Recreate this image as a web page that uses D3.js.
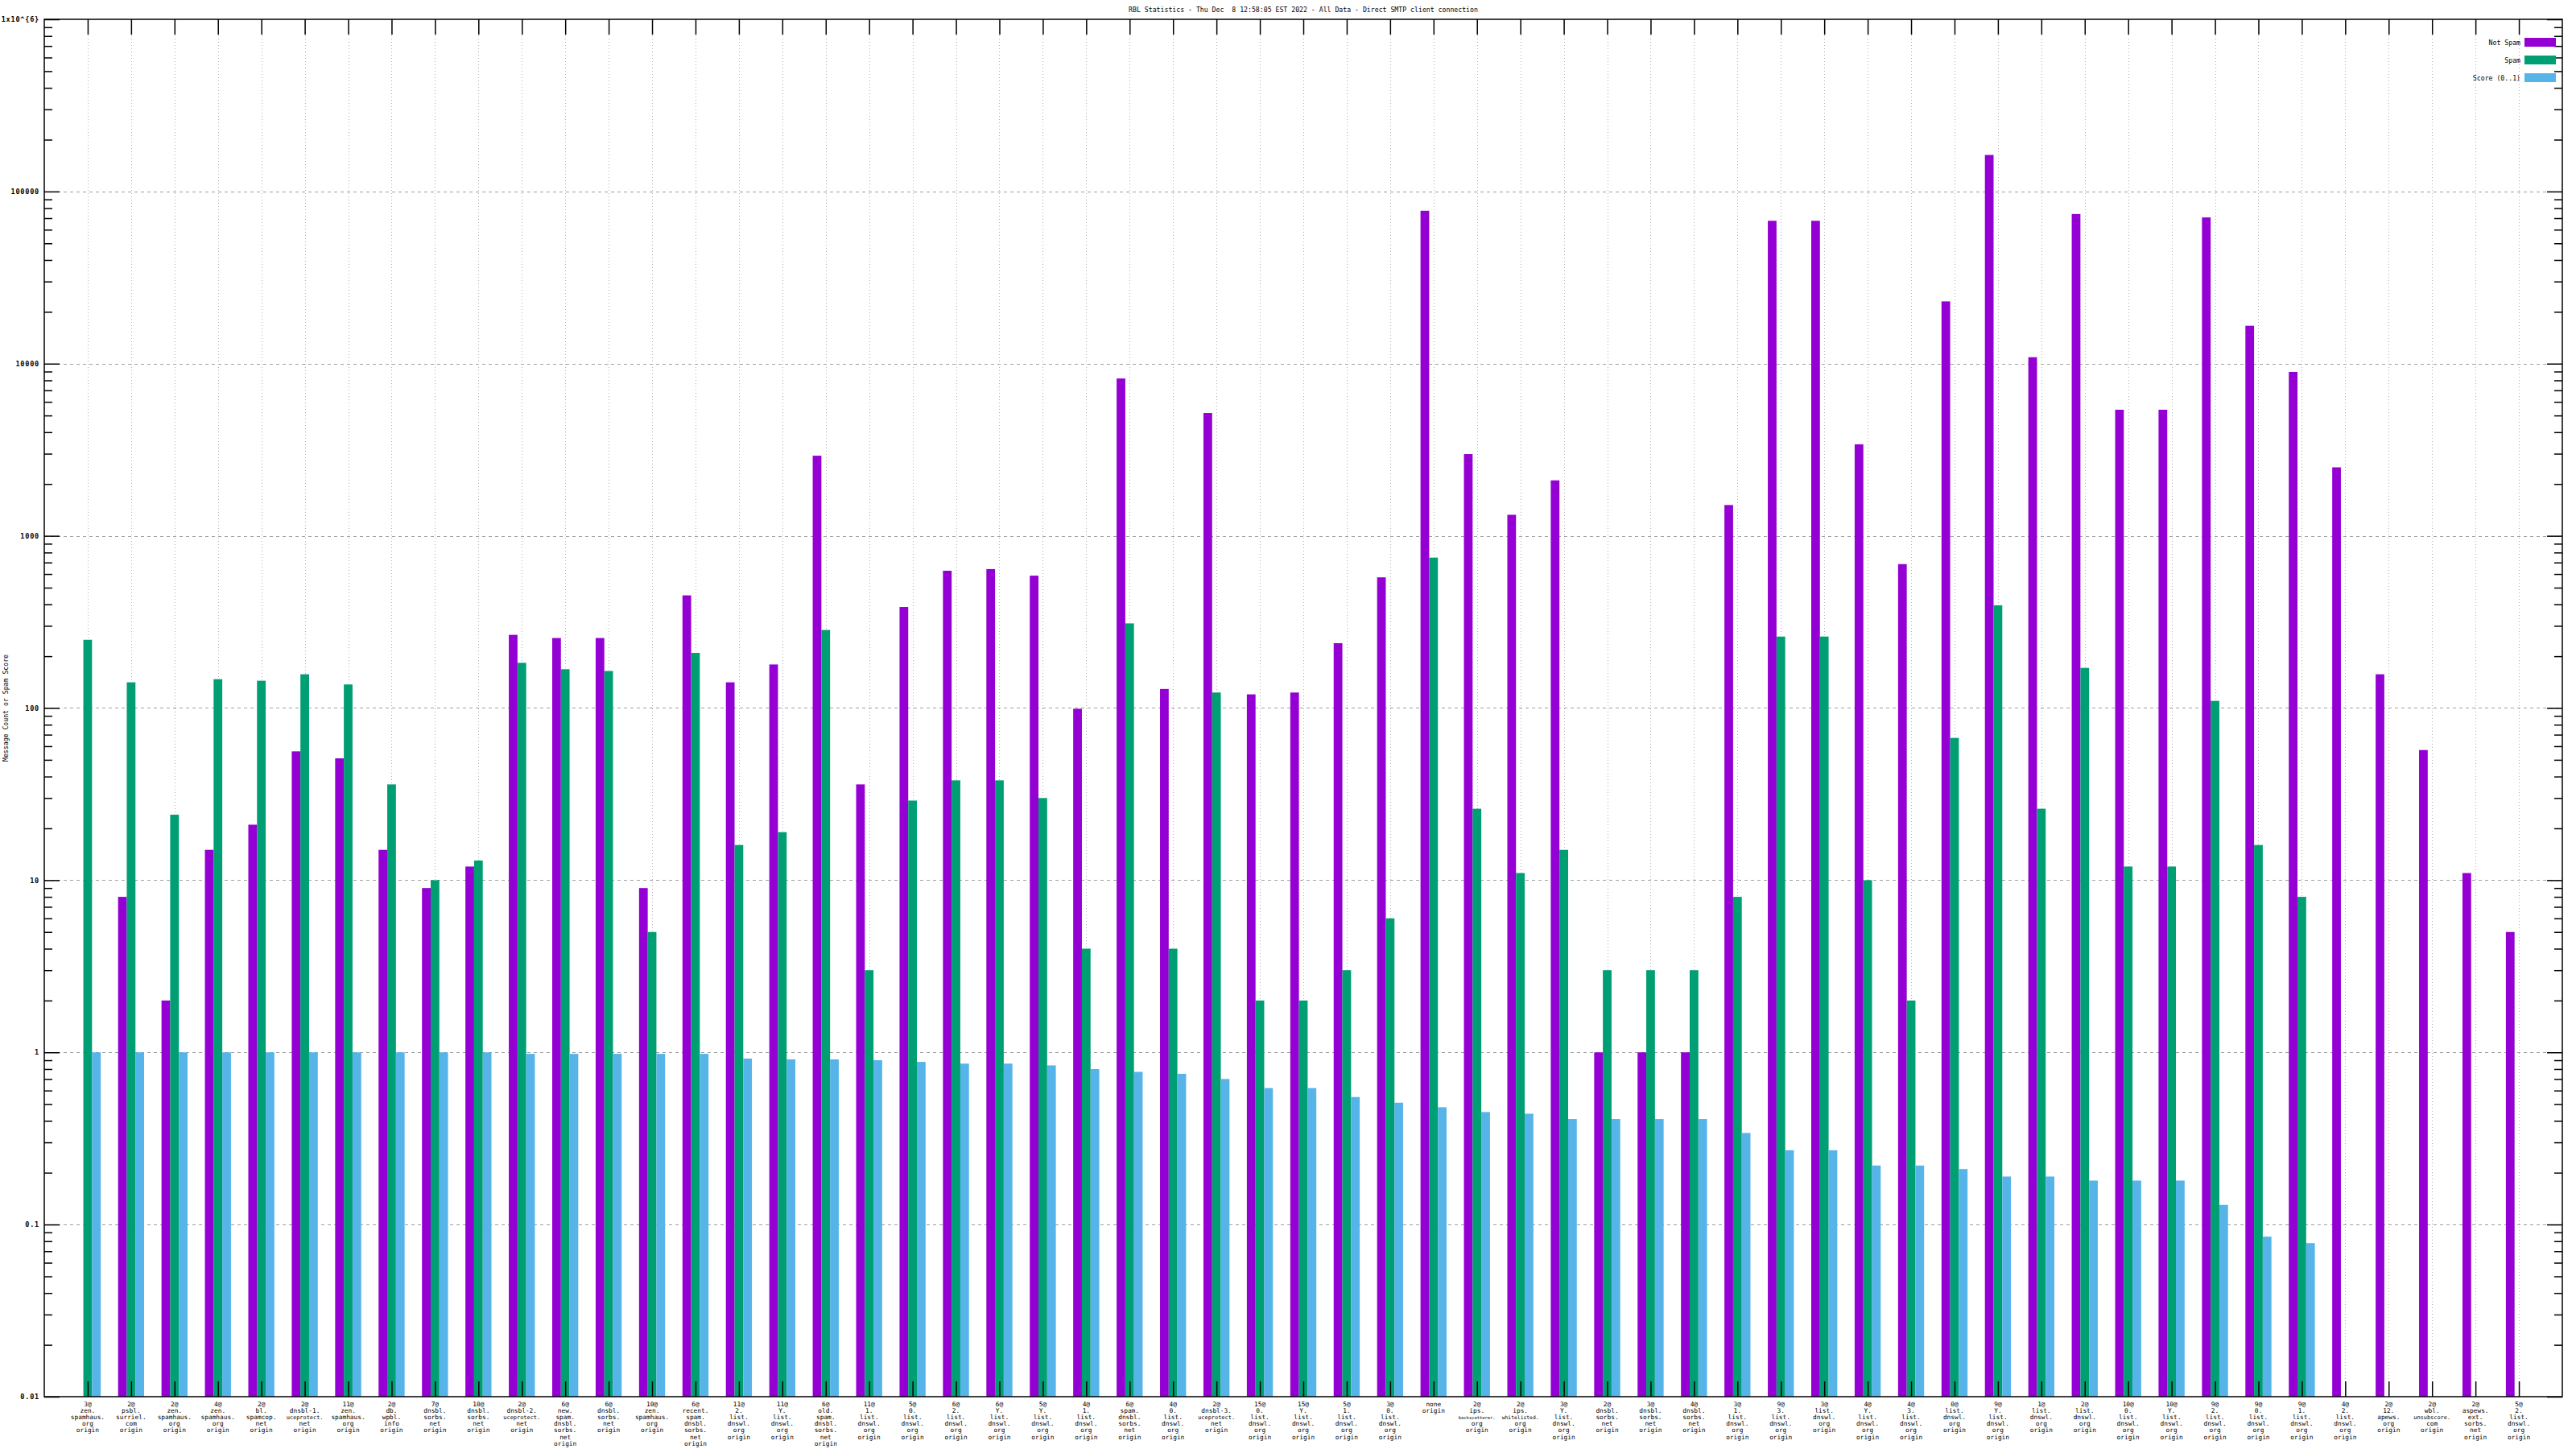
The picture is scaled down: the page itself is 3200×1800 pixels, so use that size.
<!DOCTYPE html>
<html>
<head>
<meta charset="utf-8">
<script src="https://cdn.jsdelivr.net/npm/d3@7"></script>
<style>
  html, body { margin: 0; padding: 0; background: #fff; }
  svg { display: block; }
  text { font-family: "DejaVu Sans Mono", monospace; fill: #000; white-space: pre; }
</style>
</head>
<body>
<svg id="chart" width="3200" height="1800"></svg>
<script>
const title = "RBL Statistics - Thu Dec  8 12:58:05 EST 2022 - All Data - Direct SMTP client connection";
const yLabel = "Message Count or Spam Score";
const seriesNames = ["Not Spam", "Spam", "Score (0..1)"];
const seriesColors = ["#9400d3", "#009e73", "#56b4e9"];

const categories = [
  "3@\nzen.\nspamhaus.\norg\norigin",
  "2@\npsbl.\nsurriel.\ncom\norigin",
  "2@\nzen.\nspamhaus.\norg\norigin",
  "4@\nzen.\nspamhaus.\norg\norigin",
  "2@\nbl.\nspamcop.\nnet\norigin",
  "2@\ndnsbl-1.\nuceprotect.\nnet\norigin",
  "11@\nzen.\nspamhaus.\norg\norigin",
  "2@\ndb.\nwpbl.\ninfo\norigin",
  "7@\ndnsbl.\nsorbs.\nnet\norigin",
  "10@\ndnsbl.\nsorbs.\nnet\norigin",
  "2@\ndnsbl-2.\nuceprotect.\nnet\norigin",
  "6@\nnew.\nspam.\ndnsbl.\nsorbs.\nnet\norigin",
  "6@\ndnsbl.\nsorbs.\nnet\norigin",
  "10@\nzen.\nspamhaus.\norg\norigin",
  "6@\nrecent.\nspam.\ndnsbl.\nsorbs.\nnet\norigin",
  "11@\n2.\nlist.\ndnswl.\norg\norigin",
  "11@\nY.\nlist.\ndnswl.\norg\norigin",
  "6@\nold.\nspam.\ndnsbl.\nsorbs.\nnet\norigin",
  "11@\n1.\nlist.\ndnswl.\norg\norigin",
  "5@\n0.\nlist.\ndnswl.\norg\norigin",
  "6@\n2.\nlist.\ndnswl.\norg\norigin",
  "6@\nY.\nlist.\ndnswl.\norg\norigin",
  "5@\nY.\nlist.\ndnswl.\norg\norigin",
  "4@\n1.\nlist.\ndnswl.\norg\norigin",
  "6@\nspam.\ndnsbl.\nsorbs.\nnet\norigin",
  "4@\n0.\nlist.\ndnswl.\norg\norigin",
  "2@\ndnsbl-3.\nuceprotect.\nnet\norigin",
  "15@\n0.\nlist.\ndnswl.\norg\norigin",
  "15@\nY.\nlist.\ndnswl.\norg\norigin",
  "5@\n1.\nlist.\ndnswl.\norg\norigin",
  "3@\n0.\nlist.\ndnswl.\norg\norigin",
  "none\norigin",
  "2@\nips.\nbackscatterer.\norg\norigin",
  "2@\nips.\nwhitelisted.\norg\norigin",
  "3@\nY.\nlist.\ndnswl.\norg\norigin",
  "2@\ndnsbl.\nsorbs.\nnet\norigin",
  "3@\ndnsbl.\nsorbs.\nnet\norigin",
  "4@\ndnsbl.\nsorbs.\nnet\norigin",
  "3@\n1.\nlist.\ndnswl.\norg\norigin",
  "9@\n3.\nlist.\ndnswl.\norg\norigin",
  "3@\nlist.\ndnswl.\norg\norigin",
  "4@\nY.\nlist.\ndnswl.\norg\norigin",
  "4@\n3.\nlist.\ndnswl.\norg\norigin",
  "0@\nlist.\ndnswl.\norg\norigin",
  "9@\nY.\nlist.\ndnswl.\norg\norigin",
  "1@\nlist.\ndnswl.\norg\norigin",
  "2@\nlist.\ndnswl.\norg\norigin",
  "10@\n0.\nlist.\ndnswl.\norg\norigin",
  "10@\nY.\nlist.\ndnswl.\norg\norigin",
  "9@\n2.\nlist.\ndnswl.\norg\norigin",
  "9@\n0.\nlist.\ndnswl.\norg\norigin",
  "9@\n1.\nlist.\ndnswl.\norg\norigin",
  "4@\n2.\nlist.\ndnswl.\norg\norigin",
  "2@\n12.\napews.\norg\norigin",
  "2@\nwbl.\nunsubscore.\ncom\norigin",
  "2@\naspews.\next.\nsorbs.\nnet\norigin",
  "5@\n2.\nlist.\ndnswl.\norg\norigin"
];

const notSpam = [null, 8, 2, 15, 21, 56, 51, 15, 9, 12,
  266, 255, 255, 9, 451, 141, 179, 2920, 36, 386,
  627, 641, 587, 99, 8200, 129, 5170, 120, 123, 238,
  574, 77300, 2985, 1325, 2100, 1, 1, 1, 1510, 67600,
  67600, 3400, 685, 23000, 163000, 10900, 74000, 5400, 5400, 70700,
  16600, 8960, 2500, 157, 57, 11, 5];

const spam = [249, 141, 24, 147, 144, 157, 137, 36, 10, 13,
  183, 168, 164, 5, 209, 16, 19, 284, 3, 29,
  38, 38, 30, 4, 310, 4, 123, 2, 2, 3,
  6, 747, 26, 11, 15, 3, 3, 3, 8, 260,
  260, 10, 2, 67, 395, 26, 171, 12, 12, 110,
  16, 8, null, null, null, null, null];

const score = [1, 1, 1, 1, 1, 1, 1, 1, 1, 1,
  0.98, 0.98, 0.98, 0.98, 0.98, 0.92, 0.91, 0.91, 0.90, 0.88,
  0.86, 0.86, 0.84, 0.80, 0.77, 0.75, 0.70, 0.62, 0.62, 0.55,
  0.51, 0.48, 0.45, 0.44, 0.41, 0.41, 0.41, 0.41, 0.34, 0.27,
  0.27, 0.22, 0.22, 0.21, 0.19, 0.19, 0.18, 0.18, 0.18, 0.13,
  0.085, 0.078, null, null, null, null, null];

const yTickValues = [0.01, 0.1, 1, 10, 100, 1000, 10000, 100000, 1000000];
const yTickLabels = ["0.01", "0.1", "1", "10", "100", "1000", "10000", "100000", "1x10^{6}"];

// ---------------- drawing ----------------
const svg = d3.select("#chart");
const W = 3200, H = 1800;
const m = {left: 55, right: 17, top: 24, bottom: 65};
const x0 = m.left, x1 = W - m.right, yTop = m.top, yBot = H - m.bottom;

svg.append("rect").attr("width", W).attr("height", H).attr("fill", "#fff");

const x = d3.scaleLinear().domain([-1, categories.length]).range([x0, x1]);
const y = d3.scaleLog().domain([0.01, 1e6]).range([yBot, yTop]);
const step = x(1) - x(0);
const bw = step / 5;

// minor ticks
const minorVals = [];
for (let e = -2; e < 6; e++) for (let k = 2; k <= 9; k++) minorVals.push(k * Math.pow(10, e));

// grid
const grid = svg.append("g");
grid.selectAll("line.h").data(yTickValues.slice(1, -1)).join("line")
  .attr("x1", x0).attr("x2", x1)
  .attr("y1", d => Math.round(y(d)) + 0.5).attr("y2", d => Math.round(y(d)) + 0.5)
  .attr("stroke", "#a0a0a0").attr("stroke-width", 1)
  .attr("stroke-dasharray", "4,4");
grid.selectAll("line.v").data(d3.range(categories.length)).join("line")
  .attr("x1", d => Math.round(x(d)) + 0.5).attr("x2", d => Math.round(x(d)) + 0.5)
  .attr("y1", yTop).attr("y2", yBot)
  .attr("stroke", "#b0b0b0").attr("stroke-width", 1)
  .attr("stroke-dasharray", "1,3");

// bars
const series = [notSpam, spam, score];
series.forEach((vals, s) => {
  svg.append("g").selectAll("rect")
    .data(vals.map((v, i) => ({v, i})).filter(d => d.v != null && d.v > 0))
    .join("rect")
    .attr("x", d => x(d.i) + (s - 1.5) * bw)
    .attr("width", bw)
    .attr("y", d => y(d.v))
    .attr("height", d => yBot - y(d.v))
    .attr("fill", seriesColors[s]);
});

// axes
const TL = 19, TLm = 10;
const axL = svg.append("g").attr("transform", `translate(${x0},0)`)
  .call(d3.axisLeft(y).tickValues(yTickValues).tickSize(-TL).tickSizeOuter(0).tickPadding(6)
    .tickFormat((d, i) => yTickLabels[i]));
svg.append("g").attr("transform", `translate(${x0},0)`)
  .call(d3.axisLeft(y).tickValues(minorVals).tickSize(-TLm).tickSizeOuter(0).tickFormat(""));
svg.append("g").attr("transform", `translate(${x1},0)`)
  .call(d3.axisRight(y).tickValues(yTickValues).tickSize(-TL).tickSizeOuter(0).tickFormat(""));
svg.append("g").attr("transform", `translate(${x1},0)`)
  .call(d3.axisRight(y).tickValues(minorVals).tickSize(-TLm).tickSizeOuter(0).tickFormat(""));
svg.append("g").attr("transform", `translate(0,${yBot})`)
  .call(d3.axisBottom(x).tickValues(d3.range(categories.length)).tickSize(-TL).tickSizeOuter(0).tickFormat(""));
svg.append("g").attr("transform", `translate(0,${yTop})`)
  .call(d3.axisTop(x).tickValues(d3.range(categories.length)).tickSize(-TL).tickSizeOuter(0).tickFormat(""));

svg.selectAll(".domain").remove();
svg.selectAll(".tick line").attr("stroke", "#000").attr("stroke-width", 1.5);
axL.selectAll("text").attr("font-size", 8.5).attr("font-family", "DejaVu Sans Mono, monospace")
  .attr("font-weight", "bold").attr("letter-spacing", 0.8);

// border
svg.append("rect").attr("x", x0).attr("y", yTop).attr("width", x1 - x0).attr("height", yBot - yTop)
  .attr("fill", "none").attr("stroke", "#000").attr("stroke-width", 1.5);

// x labels (each line its own text; long lines shrunk so neighbours do not collide)
const xl = svg.append("g");
const maxLabelW = step - 8;
const baseFs = 7.8;
categories.forEach((c, i) => {
  c.split("\n").forEach((line, j) => {
    const t = xl.append("text").attr("text-anchor", "middle")
      .attr("font-size", baseFs).attr("x", x(i)).attr("y", yBot + 11.5 + j * 8.2).text(line);
    const w = t.node().getComputedTextLength();
    if (w > maxLabelW) t.attr("font-size", baseFs * maxLabelW / w);
  });
});

// title
svg.append("text").attr("x", (x0 + x1) / 2).attr("y", 15).attr("text-anchor", "middle")
  .attr("font-size", 8.2).attr("xml:space", "preserve").text(title);

// y label
svg.append("text").attr("transform", `translate(10,${(yTop + yBot) / 2}) rotate(-90)`)
  .attr("text-anchor", "middle").attr("font-size", 8.2).text(yLabel);

// legend
const lg = svg.append("g");
seriesNames.forEach((n, i) => {
  const cy = 53 + i * 22;
  lg.append("text").attr("x", 3131).attr("y", cy + 3).attr("text-anchor", "end")
    .attr("font-size", 8.2).text(n);
  lg.append("rect").attr("x", 3136).attr("y", cy - 6).attr("width", 39).attr("height", 11)
    .attr("fill", seriesColors[i]);
});
</script>
</body>
</html>
